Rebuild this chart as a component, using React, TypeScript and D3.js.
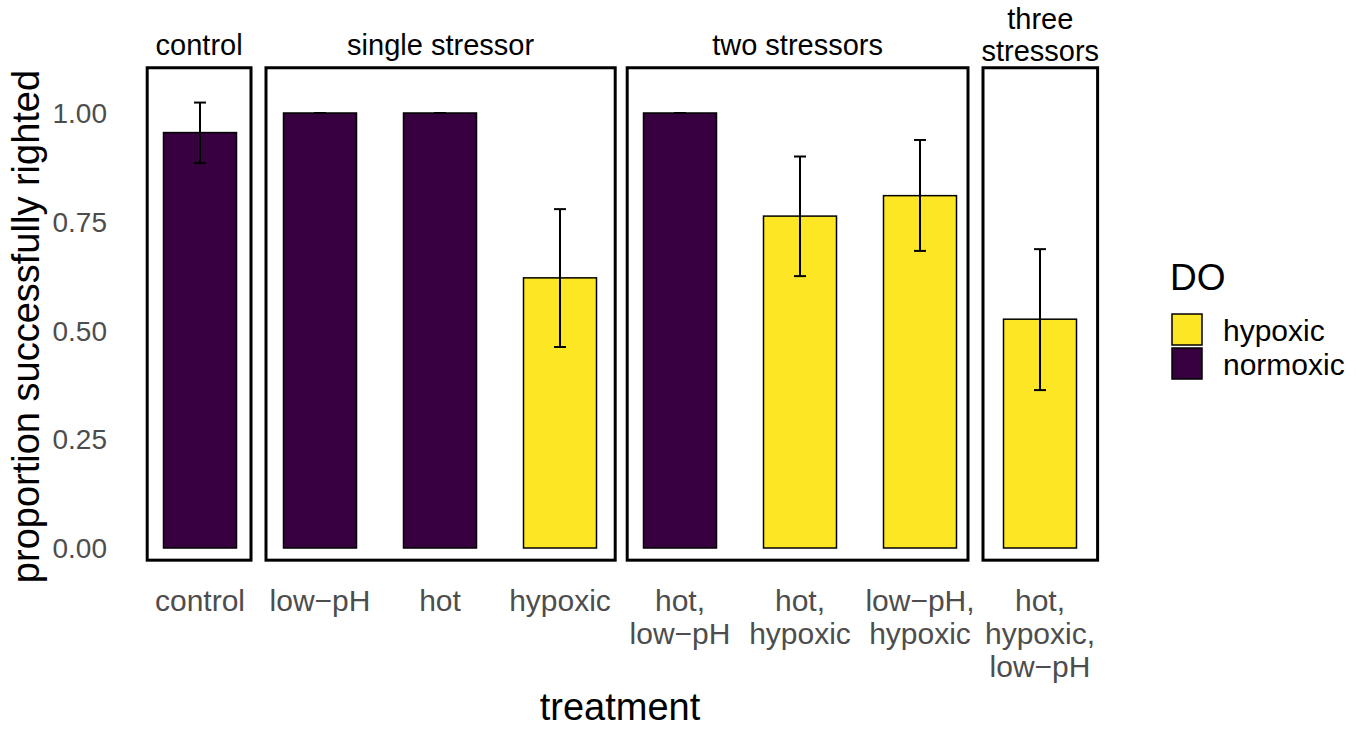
import React from "react";
import * as d3 from "d3";

const categories = [
  "control", "low−pH", "hot", "hypoxic",
  "hot,\nlow−pH", "hot,\nhypoxic", "low−pH,\nhypoxic", "hot,\nhypoxic,\nlow−pH",
];
const doLevel = ["normoxic", "normoxic", "normoxic", "hypoxic", "normoxic", "hypoxic", "hypoxic", "hypoxic"];
const means = [0.955, 1.0, 1.0, 0.621, 1.0, 0.763, 0.81, 0.526];
const errLow = [0.885, 1.0, 1.0, 0.462, 1.0, 0.625, 0.683, 0.363];
const errHigh = [1.024, 1.0, 1.0, 0.779, 1.0, 0.9, 0.938, 0.687];

const panelTitles = [["control"], ["single stressor"], ["two stressors"], ["three", "stressors"]];
const panelStart = [-0.44, 0.55, 3.56, 6.525];
const panelEnd = [0.425, 3.46, 6.4, 7.48];
const panelTop = 1.104;
const panelBottom = -0.028;

const yTicks = [0, 0.25, 0.5, 0.75, 1.0];
const legendLevels = ["hypoxic", "normoxic"];
const legendColors = ["#FDE725", "#37003F"];

const W = 1356;
const H = 731;

export default function App() {
  const step = 120;
  const x = (i: number) => 200 + step * i;
  const y = d3.scaleLinear().domain([0, 1]).range([548, 113]);
  const color = d3.scaleOrdinal<string, string>().domain(legendLevels).range(legendColors);
  const barW = 73;
  const font = "Liberation Sans, Arial, Helvetica, sans-serif";

  return (
    <svg width={W} height={H} style={{ position: "absolute", left: 0, top: 0, background: "#fff" }} fontFamily={font}>
      <rect x={0} y={0} width={W} height={H} fill="#fff" />
      {/* panel boxes */}
      {panelStart.map((s, p) => {
        const x0 = x(s);
        const x1 = x(panelEnd[p]);
        const cx = (x0 + x1) / 2;
        const lines = panelTitles[p];
        const baseY = lines.length > 1 ? 61 : 55;
        return (
          <g key={"p" + p}>
            <rect x={x0} y={y(panelTop)} width={x1 - x0} height={y(panelBottom) - y(panelTop)}
              fill="none" stroke="#000" strokeWidth={3} />
            {lines.map((t, k) => (
              <text key={k} x={cx} y={baseY - (lines.length - 1 - k) * 32}
                textAnchor="middle" fontSize={29} fill="#000">{t}</text>
            ))}
          </g>
        );
      })}
      {/* bars */}
      {means.map((m, i) => (
        <rect key={"b" + i} x={x(i) - barW / 2} y={y(m)} width={barW} height={y(0) - y(m)}
          fill={color(doLevel[i])} stroke="#000" strokeWidth={1.5} />
      ))}
      {/* error bars */}
      {means.map((m, i) => (
        <g key={"e" + i} stroke="#000" strokeWidth={2}>
          <line x1={x(i)} x2={x(i)} y1={y(errLow[i])} y2={y(errHigh[i])} />
          <line x1={x(i) - 6} x2={x(i) + 6} y1={y(errLow[i])} y2={y(errLow[i])} />
          <line x1={x(i) - 6} x2={x(i) + 6} y1={y(errHigh[i])} y2={y(errHigh[i])} />
        </g>
      ))}
      {/* y ticks */}
      {yTicks.map((t) => (
        <text key={"y" + t} x={107} y={y(t)} dy="0.36em" textAnchor="end" fontSize={28} fill="#4d4d4d">
          {d3.format(".2f")(t)}
        </text>
      ))}
      {/* x ticks */}
      {categories.map((c, i) => (
        <text key={"x" + i} x={x(i)} y={611} textAnchor="middle" fontSize={30} fill="#4d4d4d">
          {c.split("\n").map((ln, k) => (
            <tspan key={k} x={x(i)} dy={k === 0 ? 0 : 33}>{ln}</tspan>
          ))}
        </text>
      ))}
      {/* axis titles */}
      <text x={620} y={720} textAnchor="middle" fontSize={38} fill="#000">treatment</text>
      <text transform={`translate(39,${y(0.5) - 4}) rotate(-90)`} textAnchor="middle" fontSize={38} fill="#000">
        proportion successfully righted
      </text>
      {/* legend */}
      <text x={1170} y={290} fontSize={37} fill="#000">DO</text>
      {legendLevels.map((l, k) => (
        <g key={"l" + k}>
          <rect x={1172} y={314 + k * 34} width={30} height={31} fill={color(l)} stroke="#000" strokeWidth={1.5} />
          <text x={1223} y={330 + k * 34} dy="0.36em" fontSize={30} fill="#000">{l}</text>
        </g>
      ))}
    </svg>
  );
}
